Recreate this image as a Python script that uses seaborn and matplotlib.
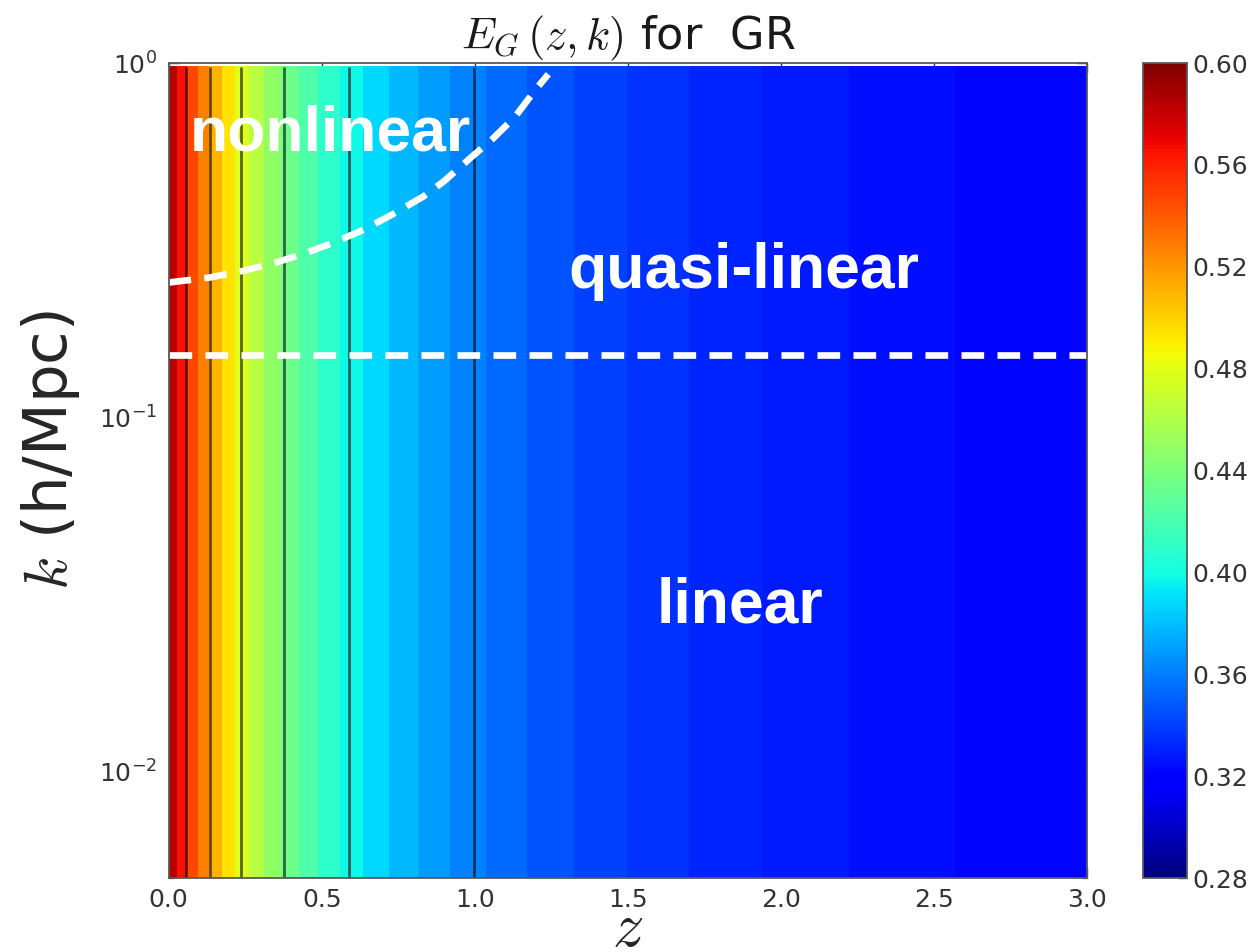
import numpy as np
import matplotlib
matplotlib.use("Agg")
import matplotlib.pyplot as plt
import seaborn as sns

# ---- data ----
# redshift cell edges of the E_G map (grid is uniform in scale factor)
z_edges = [0.0, 0.0309, 0.0638, 0.0989, 0.1364, 0.1765, 0.2195, 0.2658, 0.3158,
           0.3699, 0.4286, 0.4925, 0.5625, 0.6393, 0.7241, 0.8182, 0.9231,
           1.0408, 1.1739, 1.3256, 1.5, 1.7027, 1.9412, 2.2258, 2.5714, 3.0]
# E_G value in each redshift cell (independent of k for GR)
eg_values = [0.5846, 0.5651, 0.5463, 0.5282, 0.5107, 0.4940, 0.4780, 0.4627,
             0.4483, 0.4346, 0.4216, 0.4095, 0.3981, 0.3876, 0.3779, 0.3689,
             0.3608, 0.3535, 0.3469, 0.3411, 0.3359, 0.3315, 0.3277, 0.3246,
             0.3219]
k_edges = [0.005, 0.975]
contour_levels = [0.36, 0.40, 0.44, 0.48, 0.52, 0.56]
cbar_ticks = [0.28, 0.32, 0.36, 0.40, 0.44, 0.48, 0.52, 0.56, 0.60]
x_ticks = [0.0, 0.5, 1.0, 1.5, 2.0, 2.5, 3.0]

# nonlinear / quasi-linear boundary (white dashed curve)
nl_z = [0.0, 0.135, 0.244, 0.342, 0.440, 0.538, 0.636, 0.734, 0.832, 0.897,
        0.984, 1.060, 1.131, 1.202, 1.24]
nl_k = [0.240, 0.248, 0.259, 0.272, 0.289, 0.311, 0.338, 0.375, 0.420, 0.462,
        0.538, 0.613, 0.705, 0.849, 0.93]
# quasi-linear / linear boundary
ql_z = [0.0, 3.0]
ql_k = [0.15, 0.15]

region_labels = ["nonlinear", "quasi-linear", "linear"]
region_pos = [(0.0234, 0.893), (0.4347, 0.724), (0.5316, 0.313)]

# ---- style ----
sns.set_style("white")
plt.rcParams["font.family"] = ["DejaVu Sans"]
plt.rcParams["mathtext.fontset"] = "cm"

fig = plt.figure(figsize=(12.56, 9.52), dpi=100)
ax = fig.add_axes([0.1342, 0.0777, 0.7316, 0.8561])
cax = fig.add_axes([0.910, 0.0777, 0.035, 0.8561])

cmap = matplotlib.colormaps["jet"]
ax.set_yscale("log")

C = np.array([eg_values])
mesh = ax.pcolormesh(z_edges, k_edges, C, cmap=cmap, vmin=0.28, vmax=0.60,
                     shading="flat", edgecolors="face", linewidth=0.3)

z_centers = [(a + b) / 2 for a, b in zip(z_edges[:-1], z_edges[1:])]
ax.contour(z_centers, k_edges, np.vstack([eg_values, eg_values]),
           levels=contour_levels, colors="k", linewidths=2.0, alpha=0.6)

sns.lineplot(x=nl_z, y=nl_k, ax=ax, color="white", linewidth=4.8,
             linestyle=(0, (3.4, 2.0)), sort=False, estimator=None)
sns.lineplot(x=ql_z, y=ql_k, ax=ax, color="white", linewidth=4.8,
             linestyle=(0, (3.4, 2.0)), sort=False, estimator=None)

for txt, (px, py) in zip(region_labels, region_pos):
    ax.text(px, py, txt, transform=ax.transAxes, color="white",
            fontsize=45, fontweight="bold", family=["Liberation Sans", "DejaVu Sans"],
            ha="left", va="baseline")

ax.set_xlim(0, 3.0)
ax.set_ylim(0.005, 1.0)
ax.set_xticks(x_ticks)
ax.set_xticklabels([f"{v:.1f}" for v in x_ticks])

ax.tick_params(which="both", direction="in", top=True, right=True,
               bottom=True, left=True,
               colors="0.2", labelcolor="0.2", labelsize=18)
ax.tick_params(axis="x", which="major", length=7, width=1.0, pad=7)
ax.tick_params(axis="y", which="major", length=7, width=1.0, pad=8)
ax.tick_params(axis="y", which="minor", length=3.5, width=0.9)
for s in ax.spines.values():
    s.set_color("0.35")
    s.set_linewidth(1.3)

ax.set_title(r"$E_G\,(z,k)$ for  GR", fontsize=32, pad=5, color="0.1")
ax.set_xlabel(r"$z$", fontsize=45, labelpad=-9, color="0.15")
ax.set_ylabel(r"$k$ (h/Mpc)", fontsize=44, color="0.15")
ax.yaxis.set_label_coords(-0.094, 0.525)

cb = fig.colorbar(mesh, cax=cax, ticks=cbar_ticks)
cb.ax.yaxis.set_major_formatter(matplotlib.ticker.FormatStrFormatter("%.2f"))
cb.ax.tick_params(direction="in", right=True, length=6.5, width=1.0, pad=4,
                  labelsize=18, colors="0.2", labelcolor="0.2")
cb.outline.set_edgecolor("0.35")
cb.outline.set_linewidth(1.3)

fig.savefig("out.png", dpi=100)
